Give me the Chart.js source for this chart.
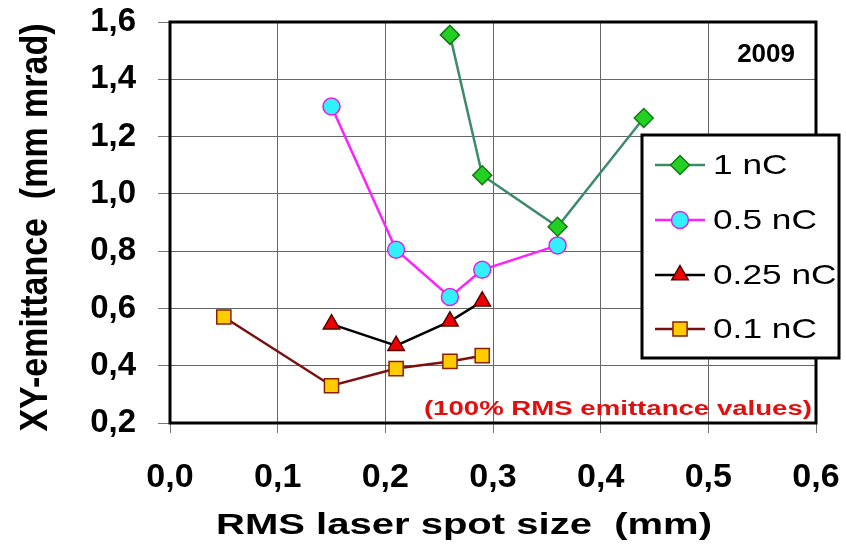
<!DOCTYPE html>
<html>
<head>
<meta charset="utf-8">
<script src="https://cdn.jsdelivr.net/npm/chart.js@4/dist/chart.umd.min.js"></script>
<style>
  html, body { margin: 0; padding: 0; background: #fff; }
  #wrap { width: 846px; height: 545px; }
</style>
</head>
<body>
<div id="wrap"><canvas id="c" width="846" height="545"></canvas></div>
<script>
// RMS laser spot size (mm) and XY-emittance (mm mrad) per bunch charge
const spot1nC   = [0.26, 0.29, 0.36, 0.44];
const emit1nC   = [1.555, 1.065, 0.885, 1.265];
const spot05nC  = [0.15, 0.21, 0.26, 0.29, 0.36];
const emit05nC  = [1.305, 0.805, 0.64, 0.735, 0.82];
const spot025nC = [0.15, 0.21, 0.26, 0.29];
const emit025nC = [0.545, 0.47, 0.555, 0.625];
const spot01nC  = [0.05, 0.15, 0.21, 0.26, 0.29];
const emit01nC  = [0.57, 0.33, 0.39, 0.415, 0.435];

const seriesLabels = ['1 nC', '0.5 nC', '0.25 nC', '0.1 nC'];
const xTickValues = [0.0, 0.1, 0.2, 0.3, 0.4, 0.5, 0.6];
const yTickValues = [0.2, 0.4, 0.6, 0.8, 1.0, 1.2, 1.4, 1.6];
const xTitle = 'RMS laser spot size  (mm)';
const yTitle = 'XY-emittance  (mm mrad)';
const yearLabel = '2009';
const noteLabel = '(100% RMS emittance values)';

const pairs = (xs, ys) => xs.map((x, i) => ({ x: x, y: ys[i] }));
const comma = v => Number(v).toFixed(1).replace('.', ',');

const SANS = "'Liberation Sans', Arial, sans-serif";

// Text drawn with a horizontal stretch factor
function wideText(ctx, text, x, y, sx, align) {
  ctx.save();
  ctx.translate(x, y);
  ctx.scale(sx, 1);
  ctx.textAlign = align;
  ctx.fillText(text, 0, 0);
  ctx.restore();
}

// Plot frame drawn around the chart area
const framePlugin = {
  id: 'frame',
  beforeDatasetsDraw(chart) {
    const { ctx, chartArea: a } = chart;
    ctx.save();
    ctx.strokeStyle = '#000';
    ctx.lineWidth = 3;
    ctx.strokeRect(a.left, a.top, a.right - a.left, a.bottom - a.top);
    ctx.restore();
  }
};

// Axis titles, annotations and the boxed legend
const decorPlugin = {
  id: 'decor',
  afterDraw(chart) {
    const { ctx, chartArea: a } = chart;
    ctx.save();
    ctx.fillStyle = '#000';

    // x-axis title
    ctx.font = 'bold 29px ' + SANS;
    ctx.textBaseline = 'alphabetic';
    wideText(ctx, xTitle, (a.left + a.right) / 2 - 29, 534, 1.38, 'center');

    // y-axis title (rotated)
    ctx.save();
    ctx.translate(36, (a.top + a.bottom) / 2 + 5);
    ctx.scale(1.12, 1);
    ctx.rotate(-Math.PI / 2);
    ctx.font = 'bold 34px ' + SANS;
    ctx.textAlign = 'center';
    ctx.textBaseline = 'middle';
    ctx.fillText(yTitle, 0, 0);
    ctx.restore();

    // year tag
    ctx.font = 'bold 26px ' + SANS;
    ctx.textBaseline = 'alphabetic';
    wideText(ctx, yearLabel, a.right - 21, a.top + 40, 1.0, 'right');

    // note
    ctx.fillStyle = '#e01010';
    ctx.font = 'bold 20px ' + SANS;
    wideText(ctx, noteLabel, a.right - 4, a.bottom - 8, 1.38, 'right');

    // legend box
    const bx = 642, by = 135, bw = 197, bh = 223;
    ctx.fillStyle = '#fff';
    ctx.fillRect(bx, by, bw, bh);
    ctx.strokeStyle = '#000';
    ctx.lineWidth = 3;
    ctx.strokeRect(bx, by, bw, bh);
    const rows = [165, 220, 275, 329];
    chart.data.datasets.forEach((ds, i) => {
      const y = rows[i];
      ctx.strokeStyle = ds.borderColor;
      ctx.lineWidth = ds.borderWidth;
      ctx.beginPath();
      ctx.moveTo(655, y);
      ctx.lineTo(705, y);
      ctx.stroke();
      ctx.fillStyle = ds.pointBackgroundColor;
      ctx.strokeStyle = ds.pointBorderColor;
      ctx.lineWidth = ds.pointBorderWidth;
      Chart.helpers.drawPoint(ctx, {
        pointStyle: ds.pointStyle,
        radius: ds.pointRadius,
        rotation: 0,
        borderWidth: ds.pointBorderWidth
      }, 680, y);
      ctx.fillStyle = '#000';
      ctx.font = '28px ' + SANS;
      ctx.textBaseline = 'middle';
      wideText(ctx, ds.label, 713, y + 1, 1.26, 'left');
    });
    ctx.restore();
  }
};

const mk = (label, xs, ys, line, fill, edge, style, r) => ({
  label: label,
  data: pairs(xs, ys),
  showLine: true,
  borderColor: line,
  borderWidth: 2.5,
  pointStyle: style,
  pointRadius: r,
  pointHoverRadius: r,
  pointBackgroundColor: fill,
  pointBorderColor: edge,
  pointBorderWidth: 1.5,
  tension: 0
});

new Chart(document.getElementById('c'), {
  type: 'scatter',
  data: {
    datasets: [
      mk(seriesLabels[0], spot1nC, emit1nC, '#3d8b6b', '#22d022', '#137a13', 'rectRot', 9.5),
      mk(seriesLabels[1], spot05nC, emit05nC, '#ff20ff', '#33f0ff', '#e020e0', 'circle', 8.5),
      mk(seriesLabels[2], spot025nC, emit025nC, '#000000', '#ee0000', '#550000', 'triangle', 9.5),
      mk(seriesLabels[3], spot01nC, emit01nC, '#7a1010', '#ffcc00', '#8a2000', 'rect', 10)
    ]
  },
  options: {
    responsive: false,
    animation: false,
    events: [],
    layout: { padding: { top: 22, right: 30, left: 0, bottom: 0 } },
    plugins: { legend: { display: false }, tooltip: { enabled: false } },
    scales: {
      x: {
        type: 'linear',
        min: 0, max: 0.6,
        afterBuildTicks(s) { s.ticks = xTickValues.map(v => ({ value: v })); },
        afterFit(s) { s.height = 122; s.paddingLeft = 0; s.paddingRight = 0; },
        ticks: {
          color: '#000',
          font: { family: SANS, size: 34, weight: 'bold' },
          padding: 24,
          maxRotation: 0,
          callback: v => comma(v)
        },
        grid: {
          color: '#666',
          lineWidth: 1,
          borderDash: [3, 3],
          drawTicks: true,
          tickLength: 10,
          tickColor: '#777',
          tickBorderDash: []
        },
        border: { display: false }
      },
      y: {
        type: 'linear',
        min: 0.2, max: 1.6,
        afterBuildTicks(s) { s.ticks = yTickValues.map(v => ({ value: v })); },
        afterFit(s) { s.width = 170; s.paddingTop = 0; s.paddingBottom = 0; },
        ticks: {
          color: '#000',
          font: { family: SANS, size: 33, weight: 'bold' },
          padding: 22,
          callback: v => comma(v)
        },
        grid: {
          color: '#666',
          lineWidth: 1,
          borderDash: [3, 3],
          drawTicks: true,
          tickLength: 12,
          tickColor: '#777',
          tickBorderDash: []
        },
        border: { display: false }
      }
    }
  },
  plugins: [framePlugin, decorPlugin]
});
</script>
</body>
</html>
